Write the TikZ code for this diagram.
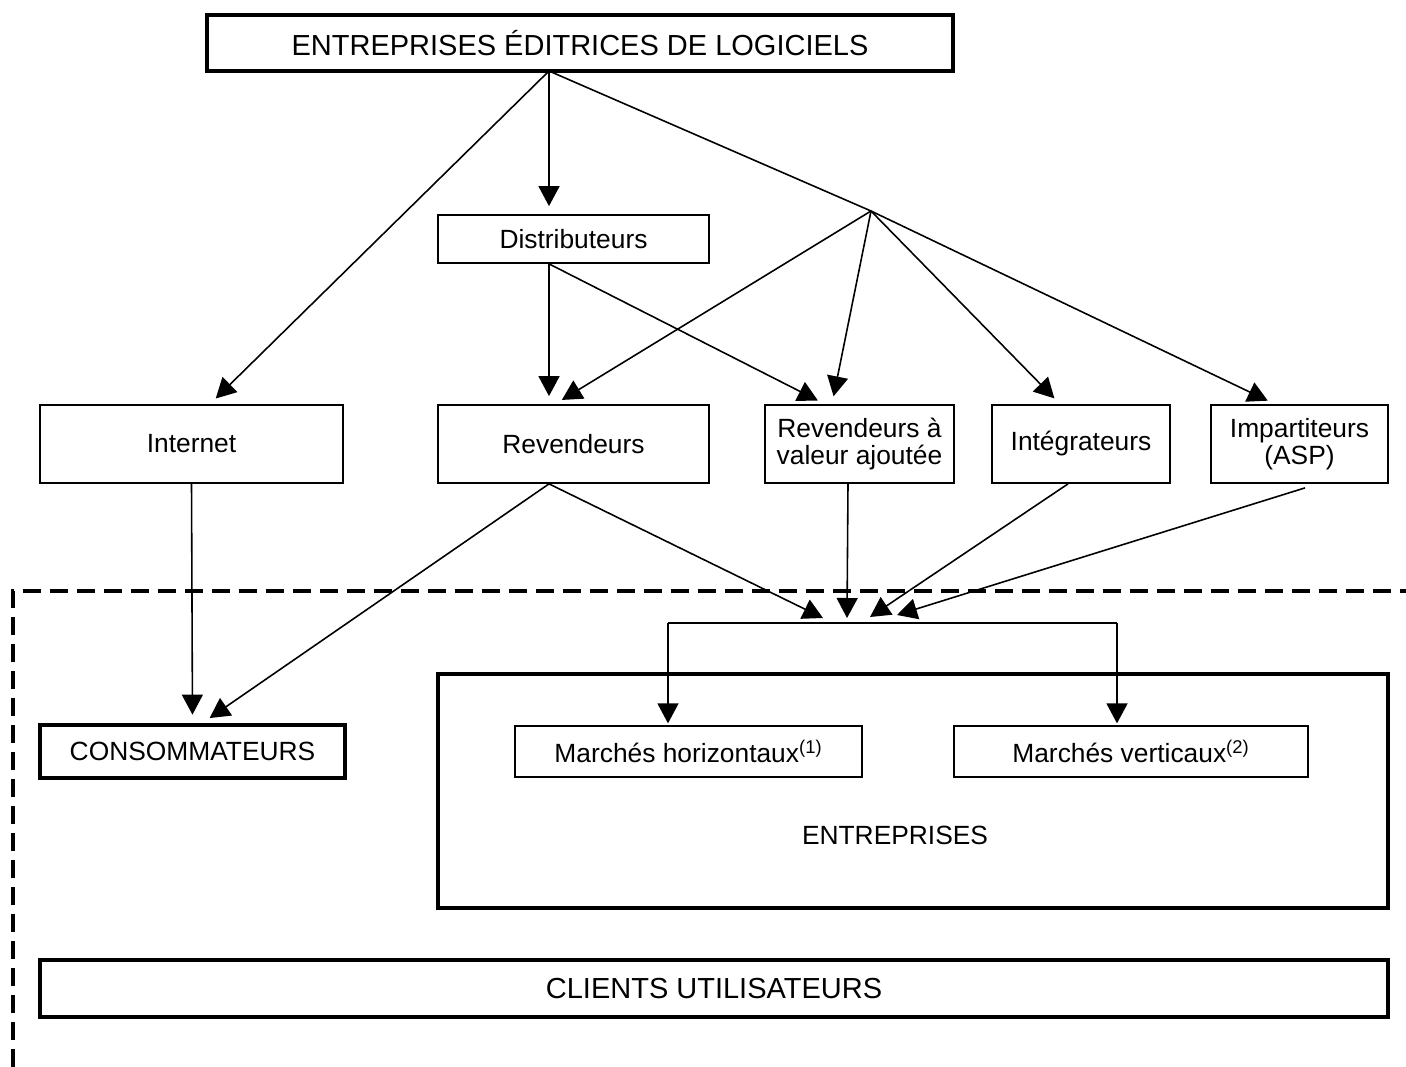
\documentclass[tikz,border=0pt]{standalone}
\usepackage{fontspec}
\setmainfont{Liberation Sans}
\usetikzlibrary{arrows.meta, positioning}

\begin{document}
\begin{tikzpicture}[
    font=\fontsize{15}{15.5}\selectfont,
    box/.style={draw, line width=1pt, rectangle, inner sep=0pt, align=center},
    boldbox/.style={draw, line width=2.7pt, rectangle, inner sep=0pt, align=center},
    arr/.style={-{Triangle[length=0.4cm, width=0.42cm]}, line width=0.9pt},
    arrgap/.style={arr, shorten >=0.16cm},
    dashframe/.style={line width=2pt, dash pattern=on 0.36cm off 0.18cm}
]
    \useasboundingbox (0,0) rectangle (28.12,-21.34);

    % producteurs
    \node[boldbox, minimum width=14.92cm, minimum height=1.12cm, font=\fontsize{16.5}{18}\selectfont] (editeurs) at (11.6,-0.86) {ENTREPRISES ÉDITRICES DE LOGICIELS};
    \node[box, minimum width=5.42cm, minimum height=0.96cm] (distrib) at (11.47,-4.78) {Distributeurs};

    % canaux
    \node[box, minimum width=6.06cm, minimum height=1.56cm] (internet) at (3.83,-8.88) {Internet};
    \node[box, minimum width=5.42cm, minimum height=1.56cm] (revend) at (11.47,-8.88) {Revendeurs};
    \node[box, minimum width=3.78cm, minimum height=1.56cm] (rva) at (17.19,-8.88) {Revendeurs à\\valeur ajoutée};
    \node[box, minimum width=3.56cm, minimum height=1.56cm] (integ) at (21.62,-8.88) {Intégrateurs};
    \node[box, minimum width=3.54cm, minimum height=1.56cm] (impart) at (25.99,-8.88) {Impartiteurs\\(ASP)};

    % clients
    \node[boldbox, minimum width=6.1cm, minimum height=1.06cm] (consom) at (3.85,-15.03) {CONSOMMATEURS};
    \node[boldbox, minimum width=19cm, minimum height=4.68cm] (entr) at (18.26,-15.82) {};
    \node[box, minimum width=6.94cm, minimum height=1.02cm] (horiz) at (13.77,-15.03) {Marchés horizontaux\textsuperscript{(1)}};
    \node[box, minimum width=7.08cm, minimum height=1.02cm] (vert) at (22.62,-15.03) {Marchés verticaux\textsuperscript{(2)}};
    \node (entrlbl) at (17.9,-16.7) {ENTREPRISES};
    \node[boldbox, minimum width=26.96cm, minimum height=1.14cm, font=\fontsize{16.5}{18}\selectfont] (clients) at (14.28,-19.77) {CLIENTS UTILISATEURS};

    \coordinate (src) at (10.98,-1.42);
    \coordinate (split) at (17.42,-4.22);
    \coordinate (tipA) at (16.46,-12.36);
    \coordinate (tipB) at (16.94,-12.36);
    \coordinate (tipC) at (17.4,-12.34);
    \coordinate (tipD) at (17.94,-12.3);
    \coordinate (brL) at (13.36,-12.46);
    \coordinate (brR) at (22.34,-12.46);
    \coordinate (dashB) at (0.26,-21.34);
    \coordinate (dashC) at (0.26,-11.82);
    \coordinate (dashR) at (28.12,-11.82);

    % depuis les editeurs
    \draw[arrgap] (src) -- ([xshift=0.37cm]internet.north);
    \draw[arrgap] (src) -- ([xshift=-0.49cm]distrib.north);
    \draw[arrgap] (src) -- (split) -- ([xshift=-0.49cm]impart.north);
    \draw[arrgap] (split) -- ([xshift=-0.37cm]revend.north);
    \draw[arrgap] (split) -- ([xshift=-0.55cm]rva.north);
    \draw[arrgap] (split) -- ([xshift=-0.42cm]integ.north);

    % depuis les distributeurs
    \draw[arrgap] ([xshift=-0.49cm]distrib.south) -- ([xshift=-0.49cm]revend.north);
    \draw[arrgap] ([xshift=-0.49cm]distrib.south) -- ([xshift=-0.69cm]rva.north);

    % vers les clients
    \draw[arrgap] (internet.south) -- (consom.north);
    \draw[arrgap] ([xshift=-0.49cm]revend.south) -- ([xshift=0.21cm]consom.north);
    \draw[arr] ([xshift=-0.49cm]revend.south) -- (tipA);
    \draw[arr] ([xshift=-0.23cm]rva.south) -- (tipB);
    \draw[arr] ([xshift=-0.26cm]integ.south) -- (tipC);
    \draw[arr] ([xshift=0.11cm,yshift=-0.08cm]impart.south) -- (tipD);

    \draw[line width=0.9pt] (brL) -- (brR);
    \draw[arr, shorten >=1pt] (brL) -- (brL |- horiz.north);
    \draw[arr, shorten >=1pt] (brR) -- (brR |- vert.north);

    \draw[dashframe] (dashB) -- (dashC) -- (dashR);
\end{tikzpicture}
\end{document}
